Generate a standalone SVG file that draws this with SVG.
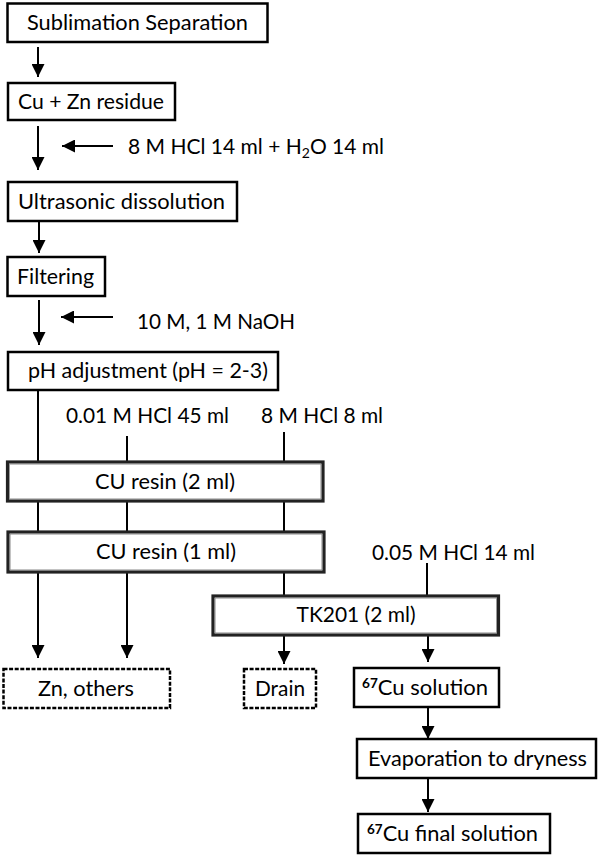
<svg xmlns="http://www.w3.org/2000/svg" width="601" height="857" viewBox="0 0 601 857">
<style>
.bx{fill:#fff;stroke:#000;stroke-width:2.5}
.col{fill:#fff;stroke:#222;stroke-width:3.2}
.coli{fill:none;stroke:#888;stroke-width:0.8}
.ds{fill:#fff;stroke:#000;stroke-width:2.5;stroke-dasharray:4 1.6}
.t{font-family:Lato,"Open Sans","Liberation Sans",sans-serif;font-size:21px;fill:#000}
.m{text-anchor:middle}
.ln{fill:none;stroke:#000;stroke-width:2}
.sup{font-size:13px;font-weight:bold}
</style>
<defs>
<marker id="ah" markerUnits="userSpaceOnUse" markerWidth="13" markerHeight="13" refX="13" refY="6.5" orient="auto">
<path d="M0,0 L13,6.5 L0,13 z" fill="#000"/>
</marker>
</defs>
<g id="connectors">
<line class="ln" x1="38" y1="47" x2="38" y2="77" marker-end="url(#ah)"/>
<line class="ln" x1="38" y1="126" x2="38" y2="170" marker-end="url(#ah)"/>
<line class="ln" x1="113" y1="146" x2="62" y2="146" marker-end="url(#ah)"/>
<line class="ln" x1="39" y1="222" x2="39" y2="253" marker-end="url(#ah)"/>
<line class="ln" x1="39" y1="300" x2="39" y2="345" marker-end="url(#ah)"/>
<line class="ln" x1="113" y1="317" x2="61" y2="317" marker-end="url(#ah)"/>
<line class="ln" x1="38" y1="390" x2="38" y2="462"/>
<line class="ln" x1="127" y1="436" x2="127" y2="462"/>
<line class="ln" x1="284" y1="432" x2="284" y2="462"/>
<line class="ln" x1="38" y1="501" x2="38" y2="532"/>
<line class="ln" x1="127" y1="501" x2="127" y2="532"/>
<line class="ln" x1="284" y1="501" x2="284" y2="532"/>
<line class="ln" x1="38" y1="572" x2="38" y2="658" marker-end="url(#ah)"/>
<line class="ln" x1="127" y1="572" x2="127" y2="658" marker-end="url(#ah)"/>
<line class="ln" x1="284" y1="572" x2="284" y2="596"/>
<line class="ln" x1="427" y1="563" x2="427" y2="596"/>
<line class="ln" x1="284" y1="635" x2="284" y2="664" marker-end="url(#ah)"/>
<line class="ln" x1="428" y1="635" x2="428" y2="662" marker-end="url(#ah)"/>
<line class="ln" x1="428" y1="707" x2="428" y2="739" marker-end="url(#ah)"/>
<line class="ln" x1="428" y1="778" x2="428" y2="812" marker-end="url(#ah)"/>
</g>
<g id="n1"><rect class="bx" x="7.5" y="3.5" width="260" height="38.5"/><text class="t m" x="137.5" y="29.5" textLength="221" lengthAdjust="spacingAndGlyphs">Sublimation Separation</text></g>
<g id="n2"><rect class="bx" x="8" y="83" width="167" height="37"/><text class="t m" x="91" y="109" textLength="146" lengthAdjust="spacingAndGlyphs">Cu + Zn residue</text></g>
<g id="lab1"><text class="t" x="128" y="154" font-size="20.7">8 M HCl 14 ml + H<tspan font-size="14" dy="4">2</tspan><tspan dy="-4">O 14 ml</tspan></text></g>
<g id="n3"><rect class="bx" x="8" y="182" width="229" height="39"/><text class="t m" x="121.5" y="208.5" textLength="207" lengthAdjust="spacingAndGlyphs">Ultrasonic dissolution</text></g>
<g id="n4"><rect class="bx" x="7.5" y="257" width="97.5" height="39"/><text class="t m" x="55.5" y="283.5" textLength="77" lengthAdjust="spacingAndGlyphs">Filtering</text></g>
<g id="lab2"><text class="t" x="137" y="329" textLength="158" lengthAdjust="spacingAndGlyphs">10 M, 1 M NaOH</text></g>
<g id="n5"><rect class="bx" x="8" y="352" width="270" height="38"/><text class="t m" x="148" y="378" textLength="240" lengthAdjust="spacingAndGlyphs">pH adjustment (pH = 2-3)</text></g>
<g id="lab3"><text class="t m" x="147.5" y="423" textLength="163" lengthAdjust="spacingAndGlyphs">0.01 M HCl 45 ml</text></g>
<g id="lab4"><text class="t m" x="322" y="423" textLength="122" lengthAdjust="spacingAndGlyphs">8 M HCl 8 ml</text></g>
<g id="n6"><rect class="col" x="7.5" y="462" width="315.5" height="39"/><rect class="coli" x="9.6" y="464.1" width="311.3" height="34.8"/><text class="t m" x="165" y="489" textLength="140" lengthAdjust="spacingAndGlyphs">CU resin (2 ml)</text></g>
<g id="n7"><rect class="col" x="8" y="532" width="316" height="40"/><rect class="coli" x="10.1" y="534.1" width="311.8" height="35.8"/><text class="t m" x="166" y="559" textLength="140" lengthAdjust="spacingAndGlyphs">CU resin (1 ml)</text></g>
<g id="lab5"><text class="t m" x="453.5" y="560" textLength="163" lengthAdjust="spacingAndGlyphs">0.05 M HCl 14 ml</text></g>
<g id="n8"><rect class="col" x="213" y="596" width="285.5" height="39"/><rect class="coli" x="215.1" y="598.1" width="281.3" height="34.8"/><text class="t m" x="356" y="622" textLength="119" lengthAdjust="spacingAndGlyphs">TK201 (2 ml)</text></g>
<g id="n9"><rect class="ds" x="3.5" y="669" width="166.5" height="39"/><text class="t m" x="86" y="696" textLength="96" lengthAdjust="spacingAndGlyphs">Zn, others</text></g>
<g id="n10"><rect class="ds" x="244" y="669" width="72" height="39"/><text class="t m" x="280" y="696" textLength="50" lengthAdjust="spacingAndGlyphs">Drain</text></g>
<g id="n11"><rect class="bx" x="354" y="668" width="145" height="39"/><text class="t m" x="425" y="695" textLength="126" lengthAdjust="spacingAndGlyphs"><tspan class="sup" dy="-7">67</tspan><tspan dy="7">Cu solution</tspan></text></g>
<g id="n12"><rect class="bx" x="357" y="739" width="239" height="39"/><text class="t m" x="477.5" y="766" textLength="219" lengthAdjust="spacingAndGlyphs">Evaporation to dryness</text></g>
<g id="n13"><rect class="bx" x="358" y="814" width="192" height="39"/><text class="t m" x="452.5" y="841" textLength="171" lengthAdjust="spacingAndGlyphs"><tspan class="sup" dy="-7">67</tspan><tspan dy="7">Cu final solution</tspan></text></g>
</svg>
